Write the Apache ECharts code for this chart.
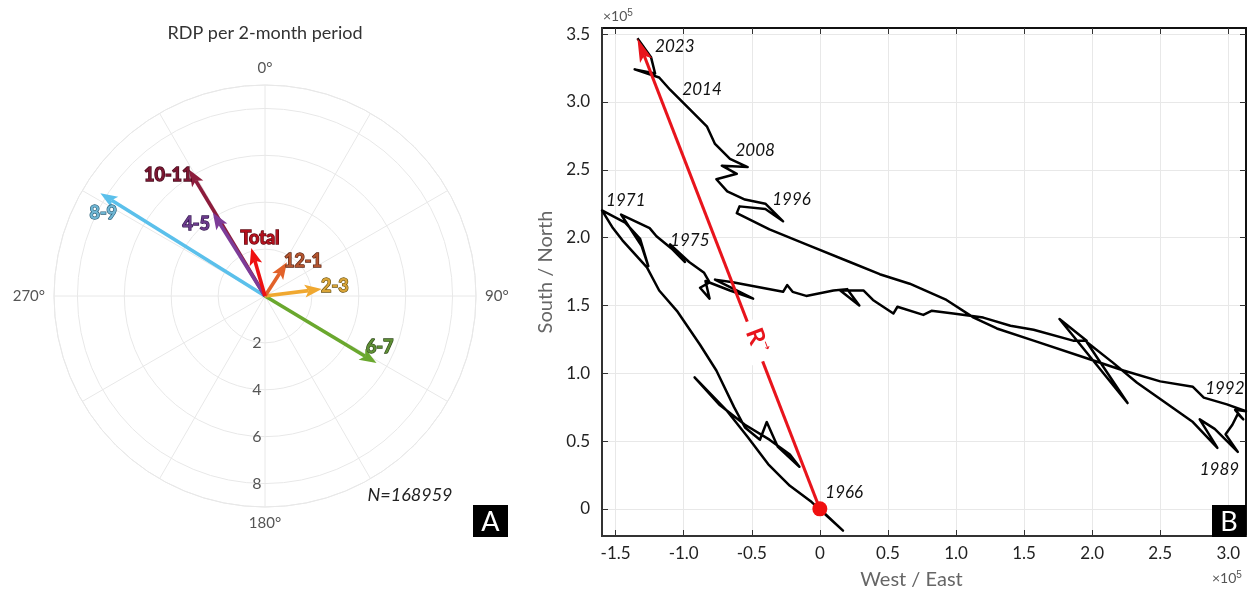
<!DOCTYPE html>
<html>
<head>
<meta charset="utf-8">
<script src="https://cdn.jsdelivr.net/npm/echarts@6.0.0/dist/echarts.min.js"></script>
<style>
	html, body { margin: 0; background: #fff; }
	#chart { width: 1255px; height: 595px; }
</style>
</head>
<body>
<div id="chart"></div>
<script>
// ---- panel A: RDP per 2-month period (polar) ----
const periods = ['8-9', '10-11', '4-5', '6-7', '2-3', '12-1', 'Total'];
const rdpLength = [8.28, 6.3, 4.2, 5.55, 2.44, 1.72, 2.13];
const rdpBearing = [302, 329, 328, 121, 83, 33, 344];
// where each period name sits (radius, bearing)
const labelRadius = [7.75, 6.6, 4.24, 5.35, 3.01, 2.2, 2.48];
const labelBearing = [297.1, 321.3, 316.2, 113.9, 81.9, 47.4, 355.1];
const radialTicks = [2, 4, 6, 8];

// ---- panel B: cumulative displacement (x10^5) ----
const trackWE = [0, 0.17, -0.06, -0.22, -0.27, -0.38, -0.53, -0.68, -0.92, -0.74,
	-0.55, -0.37, -0.22, -0.15, -0.31, -0.39, -0.44, -0.55, -0.63, -0.76,
	-0.88, -1.05, -1.18, -1.27, -1.36, -1.45, -1.52, -1.60, -1.43, -1.32,
	-1.26, -1.31, -1.46, -1.25, -1.20, -1.09, -0.99, -1.10, -0.96, -0.85,
	-0.81, -0.88, -0.81, -0.84, -0.66, -0.49, -0.77, -0.64, -0.27, -0.24,
	-0.20, -0.10, 0.10, 0.20, 0.29, 0.15, 0.32, 0.39, 0.54, 0.57,
	0.76, 0.82, 0.98, 1.20, 1.40, 1.57, 1.86, 1.96, 1.76, 2.26,
	1.96, 2.15, 2.33, 2.50, 2.74, 2.92, 2.79, 2.90, 3.07, 2.98,
	3.03, 3.07, 3.11, 3.05, 3.13, 2.99, 2.82, 2.74, 2.50, 2.23,
	1.96, 1.57, 1.30, 1.13, 0.93, 0.66, 0.44, 0.22, -0.10, -0.37,
	-0.61, -0.59, -0.40, -0.27, -0.40, -0.55, -0.68, -0.76, -0.61, -0.72,
	-0.53, -0.66, -0.77, -0.83, -0.94, -1.10, -1.18, -1.36, -1.21, -1.24, -1.34];
const trackSN = [0, -0.16, 0.05, 0.17, 0.22, 0.33, 0.53, 0.72, 0.97, 0.77,
	0.62, 0.51, 0.40, 0.31, 0.46, 0.64, 0.51, 0.60, 0.75, 1.02,
	1.21, 1.46, 1.61, 1.78, 1.88, 1.98, 2.07, 2.20, 2.11, 1.99,
	1.79, 1.94, 2.17, 2.07, 2.01, 1.92, 1.82, 1.95, 1.82, 1.74,
	1.67, 1.63, 1.55, 1.68, 1.61, 1.55, 1.69, 1.67, 1.60, 1.65,
	1.60, 1.57, 1.61, 1.62, 1.50, 1.61, 1.61, 1.54, 1.44, 1.49,
	1.43, 1.46, 1.44, 1.41, 1.35, 1.32, 1.24, 1.24, 1.40, 0.78,
	1.23, 1.08, 0.93, 0.81, 0.64, 0.45, 0.66, 0.59, 0.42, 0.55,
	0.62, 0.70, 0.66, 0.73, 0.72, 0.77, 0.82, 0.90, 0.94, 1.02,
	1.11, 1.24, 1.33, 1.41, 1.54, 1.66, 1.73, 1.82, 1.95, 2.06,
	2.18, 2.23, 2.21, 2.12, 2.25, 2.28, 2.34, 2.43, 2.47, 2.53,
	2.52, 2.58, 2.69, 2.82, 2.93, 3.09, 3.18, 3.24, 3.21, 3.33, 3.47];
const years = ['2023', '2014', '2008', '1996', '1971', '1975', '1992', '1989', '1966'];
const yearWE = [-1.21, -1.01, -0.62, -0.35, -1.57, -1.10, 2.83, 2.79, 0.04];
const yearSN = [3.41, 3.09, 2.64, 2.28, 2.27, 1.98, 0.89, 0.29, 0.12];
const resultant = [0, 0, -1.34, 3.47];
const xTicks = [-1.5, -1, -0.5, 0, 0.5, 1, 1.5, 2, 2.5, 3];
const yTicks = [0, 0.5, 1, 1.5, 2, 2.5, 3, 3.5];

// styles
const FONT = 'Lato';
const arrowColors = ['#5bc0eb', '#8c1c3c', '#7d3c98', '#6aa82e', '#f0a830', '#e2622a', '#ee1111'];
const labelFill = ['#6fb6d4', '#7a1530', '#6a3a8a', '#5e8e34', '#d9a437', '#b4552f', '#b3101c'];
const labelStroke = ['#2b5f78', '#45091b', '#33174f', '#2d4818', '#6b5312', '#5a2210', '#5e0810'];
const GRID = '#e8e8e8';

function arrow(p0, p1, color, lw, hl, hw) {
	const dx = p1[0] - p0[0], dy = p1[1] - p0[1];
	const len = Math.hypot(dx, dy);
	const ux = dx / len, uy = dy / len;
	const bx = p1[0] - ux * hl, by = p1[1] - uy * hl;
	const nx = p1[0] - ux * hl * 0.78, ny = p1[1] - uy * hl * 0.78;
	return {
		type: 'group',
		children: [
			{type: 'line', shape: {x1: p0[0], y1: p0[1], x2: nx, y2: ny},
				style: {stroke: color, lineWidth: lw}},
			{type: 'polygon', shape: {points: [
				[p1[0], p1[1]],
				[bx - uy * hw / 2, by + ux * hw / 2],
				[nx, ny],
				[bx + uy * hw / 2, by - ux * hw / 2]]},
				style: {fill: color}}
		]
	};
}

const chart = echarts.init(document.getElementById('chart'), null, {renderer: 'canvas'});

const option = {
	animation: false,
	textStyle: {fontFamily: FONT},
	polar: {center: [265, 296], radius: 211},
	angleAxis: {
		type: 'value', min: 0, max: 360, interval: 30, startAngle: 90, clockwise: true,
		axisLine: {show: true, lineStyle: {color: GRID, width: 1}},
		axisTick: {show: false},
		splitLine: {show: true, lineStyle: {color: GRID, width: 1}},
		axisLabel: {
			margin: 9, color: '#555', fontSize: 15, fontFamily: FONT,
			formatter: v => (v % 90 === 0 && v < 360 ? v + '°' : '')
		}
	},
	radiusAxis: {
		type: 'value', min: 0, max: 9, interval: 2,
		axisLine: {show: false}, axisTick: {show: false}, axisLabel: {show: false},
		splitLine: {show: true, lineStyle: {color: GRID, width: 1}}
	},
	grid: {left: 602, top: 28, width: 644, height: 509, show: true, borderColor: '#111', borderWidth: 2},
	xAxis: [{
		type: 'value', min: -1.6, max: 3.13,
		name: 'West / East', nameLocation: 'middle', nameGap: 34,
		nameTextStyle: {fontSize: 20, color: '#666', fontFamily: FONT, padding: [0, 25, 0, 0]},
		axisLine: {show: true, onZero: false, lineStyle: {color: '#333', width: 2}},
		axisTick: {show: true, inside: true, length: 6, lineStyle: {color: '#333'}, customValues: xTicks},
		axisLabel: {customValues: xTicks, margin: 9, fontSize: 17, color: '#222', fontFamily: FONT,
			formatter: v => (v === 0 ? '0' : v.toFixed(1))},
		splitLine: {show: true, lineStyle: {color: GRID, width: 1}}
	}, {
		type: 'value', position: 'top', min: -1.6, max: 3.13,
		axisLine: {show: false, onZero: false},
		axisTick: {show: true, inside: true, length: 6, lineStyle: {color: '#333'}, customValues: xTicks},
		axisLabel: {show: false}, splitLine: {show: false}
	}],
	yAxis: [{
		type: 'value', min: -0.2, max: 3.545,
		name: 'South / North', nameLocation: 'middle', nameGap: 44,
		nameTextStyle: {fontSize: 20, color: '#666', fontFamily: FONT, padding: [0, 0, 0, 20]},
		axisLine: {show: true, onZero: false, lineStyle: {color: '#333', width: 2}},
		axisTick: {show: true, inside: true, length: 6, lineStyle: {color: '#333'}, customValues: yTicks},
		axisLabel: {customValues: yTicks, margin: 12, fontSize: 17, color: '#222', fontFamily: FONT,
			formatter: v => (v === 0 ? '0' : v.toFixed(1))},
		splitLine: {show: true, lineStyle: {color: GRID, width: 1}}
	}, {
		type: 'value', position: 'right', min: -0.2, max: 3.545,
		axisLine: {show: false, onZero: false},
		axisTick: {show: true, inside: true, length: 6, lineStyle: {color: '#333'}, customValues: yTicks},
		axisLabel: {show: false}, splitLine: {show: false}
	}],
	graphic: [
		{type: 'text', x: 265, y: 24, style: {text: 'RDP per 2-month period', font: '18px ' + FONT, fill: '#333', textAlign: 'center'}},
		{type: 'text', x: 410, y: 495, style: {text: 'N=168959', font: 'italic 18px ' + FONT, fill: '#222', textAlign: 'center', textVerticalAlign: 'middle'}},
		{type: 'rect', shape: {x: 473, y: 505, width: 35, height: 32}, style: {fill: '#000'}},
		{type: 'text', x: 490.5, y: 522, style: {text: 'A', font: '27px ' + FONT, fill: '#fff', textAlign: 'center', textVerticalAlign: 'middle'}},
		{type: 'rect', shape: {x: 1212, y: 505, width: 34, height: 32}, style: {fill: '#000'}, z: 20},
		{type: 'text', x: 1229, y: 522, z: 21, style: {text: 'B', font: '27px ' + FONT, fill: '#fff', textAlign: 'center', textVerticalAlign: 'middle'}},
		{type: 'text', x: 603, y: 16, style: {
			text: '×10{s|5}', font: '14px ' + FONT, fill: '#555', textVerticalAlign: 'middle',
			rich: {s: {fontSize: 10, verticalAlign: 'top', padding: [0, 0, 6, 0]}}}},
		{type: 'text', x: 1212, y: 578, style: {
			text: '×10{s|5}', font: '14px ' + FONT, fill: '#555', textVerticalAlign: 'middle',
			rich: {s: {fontSize: 10, verticalAlign: 'top', padding: [0, 0, 6, 0]}}}}
	],
	series: [
		{
			type: 'custom', coordinateSystem: 'polar', z: 3,
			data: rdpLength.map((r, i) => [r, rdpBearing[i]]),
			renderItem: (params, api) => {
				const i = params.dataIndex;
				const p0 = api.coord([0, api.value(1)]);
				const p1 = api.coord([api.value(0), api.value(1)]);
				return arrow(p0, p1, arrowColors[i], 3.6, 17, 13);
			}
		},
		{
			type: 'scatter', coordinateSystem: 'polar', symbolSize: 0, z: 4,
			itemStyle: {opacity: 1},
			data: periods.map((p, i) => ({
				value: [labelRadius[i], labelBearing[i]], name: p,
				label: {color: labelFill[i], textBorderColor: labelStroke[i]}
			})),
			label: {show: true, position: 'inside', formatter: '{b}', fontSize: 18, fontWeight: 'bold',
				fontFamily: FONT, textBorderWidth: 1.3, opacity: 1}
		},
		{
			type: 'scatter', coordinateSystem: 'polar', symbolSize: 0, z: 4,
			itemStyle: {opacity: 1},
			data: radialTicks.map(r => [r, 180]),
			label: {show: true, position: 'inside', offset: [-8, 0], formatter: p => p.value[0],
				fontSize: 16, color: '#555', fontFamily: FONT, opacity: 1}
		},
		{
			type: 'line', xAxisIndex: 0, yAxisIndex: 0, z: 2,
			data: trackWE.map((x, i) => [x, trackSN[i]]),
			showSymbol: false, symbol: 'none',
			lineStyle: {color: '#000', width: 2.5, join: 'round'}
		},
		{
			type: 'custom', xAxisIndex: 0, yAxisIndex: 0, z: 3,
			data: [resultant],
			renderItem: (params, api) => {
				const p0 = api.coord([api.value(0), api.value(1)]);
				const p1 = api.coord([api.value(2), api.value(3)]);
				return arrow(p0, p1, '#e8141c', 3, 24, 13);
			}
		},
		{
			type: 'scatter', xAxisIndex: 0, yAxisIndex: 0, z: 5,
			data: [[resultant[0], resultant[1]]], symbolSize: 15,
			itemStyle: {color: '#f01010', opacity: 1}
		},
		{
			type: 'scatter', xAxisIndex: 0, yAxisIndex: 0, z: 6, symbolSize: 0,
			itemStyle: {opacity: 1},
			data: [[-0.46, 1.24]],
			label: {show: true, position: 'inside', formatter: '{r|R}{a|→}', rotate: -69, opacity: 1,
				backgroundColor: '#fff', padding: [2, 9],
				rich: {
					r: {fontSize: 24, fontWeight: 'bold', color: '#e8141c', fontFamily: FONT},
					a: {fontSize: 11, color: '#e8141c', verticalAlign: 'top', fontFamily: 'DejaVu Sans', padding: [0, 0, 12, 0]}
				}}
		},
		{
			type: 'scatter', xAxisIndex: 0, yAxisIndex: 0, z: 6, symbolSize: 0,
			itemStyle: {opacity: 1},
			data: years.map((y, i) => ({value: [yearWE[i], yearSN[i]], name: y})),
			label: {show: true, position: 'right', distance: 0, formatter: '{b}', opacity: 1,
				fontSize: 17, fontStyle: 'italic', color: '#111', fontFamily: FONT}
		}
	]
};

chart.setOption(option);
</script>
</body>
</html>
